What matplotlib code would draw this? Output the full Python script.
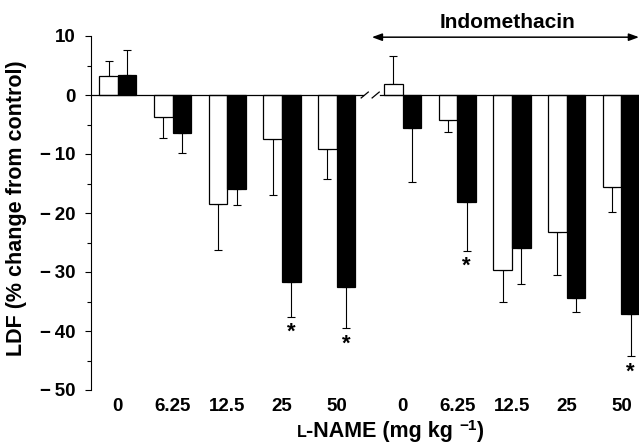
import matplotlib
matplotlib.use("Agg")
import matplotlib.pyplot as plt
from matplotlib.ticker import MultipleLocator, FuncFormatter

plt.rcParams.update({
    "font.family": ["Liberation Sans", "DejaVu Sans"],
    "font.weight": "bold",
    "axes.linewidth": 0.8,
})

doses = ["0", "6.25", "12.5", "25", "50"]

# L-NAME alone
lname_open = [3.3, -3.7, -18.4, -7.4, -9.2]
lname_open_err = [2.4, 3.6, 7.9, 9.6, 5.0]
lname_filled = [3.4, -6.4, -16.0, -31.7, -32.6]
lname_filled_err = [4.3, 3.4, 2.7, 5.9, 6.9]

# L-NAME after indomethacin
indo_open = [1.9, -4.3, -29.6, -23.3, -15.6]
indo_open_err = [4.7, 1.9, 5.5, 7.2, 4.3]
indo_filled = [-5.6, -18.2, -26.0, -34.4, -37.1]
indo_filled_err = [9.1, 8.2, 6.0, 2.3, 7.2]

# * marks on the filled bars
signif = [False, False, False, True, True, False, True, False, False, True]

GAP = 0.2      # extra space at the axis break
W = 0.34       # bar width
centers = list(range(5)) + [5 + GAP + i for i in range(5)]
open_vals = lname_open + indo_open
open_err = lname_open_err + indo_open_err
filled_vals = lname_filled + indo_filled
filled_err = lname_filled_err + indo_filled_err


def one_sided(vals, errs):
    # error bar only points away from zero
    lo = [e if v < 0 else 0 for v, e in zip(vals, errs)]
    hi = [e if v >= 0 else 0 for v, e in zip(vals, errs)]
    return [lo, hi]


fig = plt.figure(figsize=(6.39, 4.43), dpi=100)
ax = fig.add_axes([91 / 639, 1 - 390 / 443, 548 / 639, 354 / 443])

xo = [c - W / 2 for c in centers]
xf = [c + W / 2 for c in centers]
ax.bar(xo, open_vals, W, color="white", edgecolor="black", linewidth=0.9, zorder=2)
ax.bar(xf, filled_vals, W, color="black", edgecolor="black", linewidth=0.9, zorder=2)
ax.errorbar(xo, open_vals, yerr=one_sided(open_vals, open_err), fmt="none",
            ecolor="black", elinewidth=0.8, capsize=3, capthick=0.8, zorder=1)
ax.errorbar(xf, filled_vals, yerr=one_sided(filled_vals, filled_err), fmt="none",
            ecolor="black", elinewidth=0.8, capsize=3, capthick=0.8, zorder=1)

for x, v, e, s in zip(xf, filled_vals, filled_err, signif):
    if s:
        ax.text(x, v - e - 0.9, "*", ha="center", va="top", fontsize=16,
                fontweight="bold", clip_on=False)

xmin, xmax = -0.49, 9.52
ax.set_xlim(xmin, xmax)
ax.set_ylim(-50, 10)

# zero line with the // break
b0, b1 = 4.47, 4.79
ax.plot([xmin, b0], [0, 0], color="black", lw=0.9, zorder=3, clip_on=False)
ax.plot([b1, xmax], [0, 0], color="black", lw=0.9, zorder=3, clip_on=False)
for bx in (4.51, 4.71):
    ax.plot([bx - 0.065, bx + 0.065], [-0.5, 0.5], color="black", lw=0.9,
            zorder=3, clip_on=False)

# indomethacin bracket
ax.annotate("", xy=(4.64, 9.8), xytext=(xmax, 9.8),
            arrowprops=dict(arrowstyle="<|-|>,head_length=0.6,head_width=0.22",
                            color="black", lw=1.1, shrinkA=0, shrinkB=0),
            annotation_clip=False)
ax.text(7.12, 11.4, "Indomethacin", ha="center", va="baseline", fontsize=15,
        fontweight="bold", clip_on=False)

for side in ("top", "right", "bottom"):
    ax.spines[side].set_visible(False)
ax.yaxis.set_major_locator(MultipleLocator(10))
ax.yaxis.set_minor_locator(MultipleLocator(5))
ax.yaxis.set_major_formatter(
    FuncFormatter(lambda v, p: f"{v:.0f}".replace("-", "\u2212\u2009")))
ax.tick_params(axis="y", which="major", direction="out", length=4, width=0.8,
               labelsize=13.5, pad=7)
ax.tick_params(axis="y", which="minor", direction="out", length=3, width=0.8)
ax.set_xticks(centers)
ax.set_xticklabels(doses + doses, fontsize=13.5, fontweight="bold")
ax.tick_params(axis="x", length=0, pad=6)

ax.set_ylabel("LDF (% change from control)", fontsize=15.5, fontweight="bold")
ax.yaxis.set_label_coords(-0.117, 0.514)

# x label: small-cap L, superscript -1
fig.canvas.draw()
r = fig.canvas.get_renderer()
fw, fh = fig.bbox.width, fig.bbox.height
base = 1 - 437 / 443
pieces = [("L", 11.5, 0), ("-NAME (mg kg ", 15.5, 0), ("\u22121", 11, 7 / fh),
          (")", 15.5, 0)]
texts = []
x = 0.0
for s, size, dy in pieces:
    t = fig.text(x, base + dy, s, fontsize=size, fontweight="bold",
                 ha="left", va="baseline")
    x += t.get_window_extent(r).width / fw
    texts.append(t)
shift = 390 / 639 - x / 2
for t in texts:
    px, py = t.get_position()
    t.set_position((px + shift, py))

fig.savefig("out.png", dpi=100)
